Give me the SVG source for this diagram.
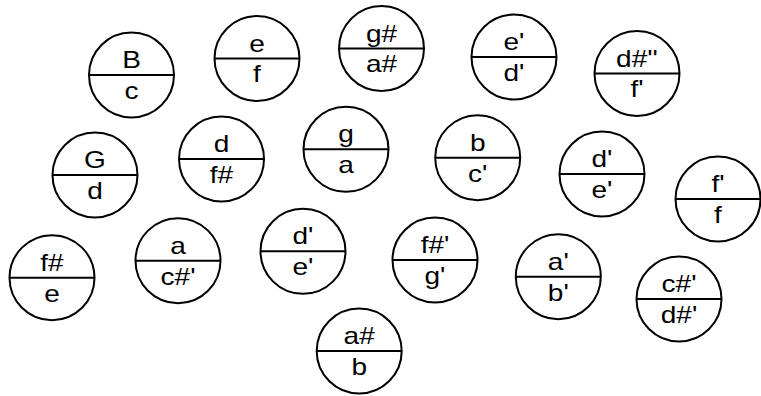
<svg xmlns="http://www.w3.org/2000/svg" width="761" height="396" viewBox="0 0 761 396">
<style>
.ring{fill:#fff;stroke:#000;stroke-width:2}
.bar{stroke:#000;stroke-width:2}
.n text{font-family:"Liberation Sans",Arial,sans-serif;font-size:23px;text-anchor:middle;fill:#000;transform:scale(1.22,1)}
</style>
<defs>
<g id="node"><circle class="ring" cx="0" cy="0" r="42.5"/><line class="bar" x1="-42.5" y1="0" x2="42.5" y2="0"/></g>
</defs>
<rect width="761" height="396" fill="#fff"/>
<g id="connectors"></g>
<g id="n1" class="n" transform="translate(131.5,75)"><use href="#node"/><text x="0" y="-7">B</text><text x="0" y="24">c</text></g>
<g id="n2" class="n" transform="translate(257,58.5)"><use href="#node"/><text x="0" y="-7">e</text><text x="0" y="24">f</text></g>
<g id="n3" class="n" transform="translate(381.5,48.5)"><use href="#node"/><text x="0" y="-7">g#</text><text x="0" y="24">a#</text></g>
<g id="n4" class="n" transform="translate(514,57)"><use href="#node"/><text x="0" y="-7">e'</text><text x="0" y="24">d'</text></g>
<g id="n5" class="n" transform="translate(637,73.5)"><use href="#node"/><text x="0" y="-7">d#''</text><text x="0" y="24">f'</text></g>
<g id="n6" class="n" transform="translate(95,175)"><use href="#node"/><text x="0" y="-7">G</text><text x="0" y="24">d</text></g>
<g id="n7" class="n" transform="translate(221.5,159)"><use href="#node"/><text x="0" y="-7">d</text><text x="0" y="24">f#</text></g>
<g id="n8" class="n" transform="translate(346,149.3)"><use href="#node"/><text x="0" y="-7">g</text><text x="0" y="24">a</text></g>
<g id="n9" class="n" transform="translate(477.7,157.7)"><use href="#node"/><text x="0" y="-7">b</text><text x="0" y="24">c'</text></g>
<g id="n10" class="n" transform="translate(602,174)"><use href="#node"/><text x="0" y="-7">d'</text><text x="0" y="24">e'</text></g>
<g id="n11" class="n" transform="translate(718,199)"><use href="#node"/><text x="0" y="-7">f'</text><text x="0" y="24">f</text></g>
<g id="n12" class="n" transform="translate(52,277.7)"><use href="#node"/><text x="0" y="-7">f#</text><text x="0" y="24">e</text></g>
<g id="n13" class="n" transform="translate(178,260.7)"><use href="#node"/><text x="0" y="-7">a</text><text x="0" y="24">c#'</text></g>
<g id="n14" class="n" transform="translate(303,251.3)"><use href="#node"/><text x="0" y="-7">d'</text><text x="0" y="24">e'</text></g>
<g id="n15" class="n" transform="translate(359.2,351)"><use href="#node"/><text x="0" y="-7">a#</text><text x="0" y="24">b</text></g>
<g id="n16" class="n" transform="translate(435,260)"><use href="#node"/><text x="0" y="-7">f#'</text><text x="0" y="24">g'</text></g>
<g id="n17" class="n" transform="translate(558.3,276.7)"><use href="#node"/><text x="0" y="-7">a'</text><text x="0" y="24">b'</text></g>
<g id="n18" class="n" transform="translate(679,299)"><use href="#node"/><text x="0" y="-7">c#'</text><text x="0" y="24">d#'</text></g>
</svg>
